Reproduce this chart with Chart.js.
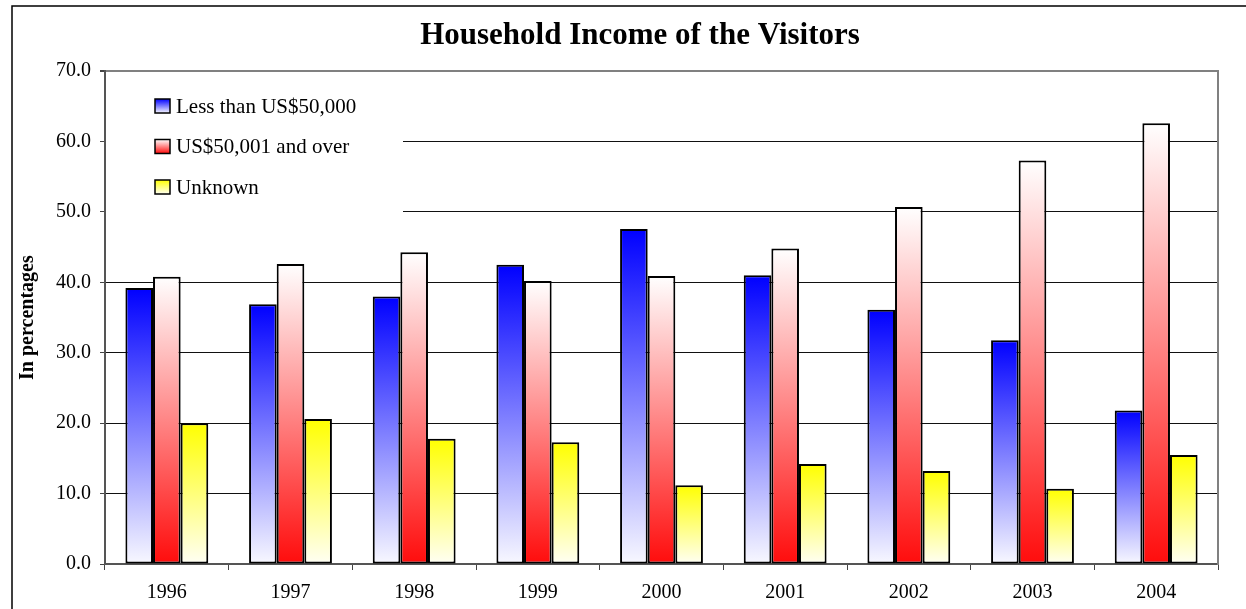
<!DOCTYPE html>
<html>
<head>
<meta charset="utf-8">
<script src="https://cdn.jsdelivr.net/npm/chart.js@4/dist/chart.umd.min.js"></script>
<style>
  body { margin: 0; background: #fff; }
  #wrap { width: 1246px; height: 609px; position: relative; }
</style>
</head>
<body>
<div id="wrap"><canvas id="chart_area"></canvas></div>
<script>
// data
const years = ['1996', '1997', '1998', '1999', '2000', '2001', '2002', '2003', '2004'];
const lessThan50k = [39.2, 36.9, 38.0, 42.5, 47.6, 41.0, 36.1, 31.8, 21.8];
const over50k = [40.8, 42.6, 44.3, 40.2, 40.9, 44.8, 50.7, 57.3, 62.6];
const unknown = [20.0, 20.6, 17.8, 17.3, 11.2, 14.2, 13.2, 10.7, 15.5];
const seriesNames = ['Less than US$50,000', 'US$50,001 and over', 'Unknown'];
const yTicks = [0, 10, 20, 30, 40, 50, 60, 70];

const serif = '"Liberation Serif", "Times New Roman", serif';
// top -> bottom colours of each gradient
const gradTop = ['#0000ff', '#ffffff', '#ffff00'];
const gradBottom = ['#f8f8ff', '#ff0c0c', '#fffff4'];

const barFill = (i) => (c) => {
  const chart = c.chart;
  const y = chart.scales.y;
  if (c.type !== 'data' || !y || !chart.chartArea) return gradTop[i];
  const yTop = y.getPixelForValue(c.raw);
  const yBase = y.getPixelForValue(0);
  if (!isFinite(yTop) || !isFinite(yBase) || yTop === yBase) return gradTop[i];
  const g = chart.ctx.createLinearGradient(0, yTop, 0, yBase);
  g.addColorStop(0, gradTop[i]);
  g.addColorStop(1, gradBottom[i]);
  return g;
};

const frameAndLegend = {
  id: 'frameAndLegend',
  beforeDraw(chart) {
    const c = chart.ctx;
    c.save();
    c.strokeStyle = '#000';
    c.lineWidth = 1.5;
    c.beginPath();
    c.moveTo(12, chart.height);
    c.lineTo(12, 6);
    c.lineTo(chart.width, 6);
    c.stroke();
    c.restore();
  },
  beforeDatasetsDraw(chart) {
    const c = chart.ctx;
    const a = chart.chartArea;
    c.save();
    // white legend panel hiding the grid lines
    c.fillStyle = '#fff';
    c.fillRect(a.left + 1, a.top + 2, 402 - a.left, 216 - a.top);
    c.font = '21px ' + serif;
    c.textBaseline = 'middle';
    c.textAlign = 'left';
    chart.data.datasets.forEach((ds, i) => {
      const cy = 106 + i * 40.5;
      const g = c.createLinearGradient(0, cy - 7, 0, cy + 7);
      g.addColorStop(0, gradTop[i]);
      g.addColorStop(1, gradBottom[i]);
      c.fillStyle = g;
      c.fillRect(155, cy - 7, 15, 14);
      c.strokeStyle = '#000';
      c.lineWidth = 1.5;
      c.strokeRect(155, cy - 7, 15, 14);
      c.fillStyle = '#000';
      c.fillText(ds.label, 176, cy + 1);
    });
    c.restore();
  }
};

const ctx = document.getElementById('chart_area').getContext('2d');
const chart = new Chart(ctx, {
  type: 'bar',
  data: {
    labels: years,
    datasets: [lessThan50k, over50k, unknown].map((d, i) => ({
      label: seriesNames[i],
      data: d,
      backgroundColor: barFill(i),
      borderColor: '#000',
      borderWidth: 2,
      borderSkipped: false,
      categoryPercentage: 0.67,
      barPercentage: 1.0
    }))
  },
  options: {
    responsive: true,
    maintainAspectRatio: false,
    animation: false,
    layout: { padding: { top: 6, left: 34, right: 0, bottom: 0 } },
    plugins: {
      legend: { display: false },
      tooltip: { enabled: false },
      title: {
        display: true,
        text: 'Household Income of the Visitors',
        color: '#000',
        font: { family: serif, size: 31, weight: 'bold' },
        padding: { top: 11, bottom: 17 }
      }
    },
    scales: {
      x: {
        offset: true,
        grid: { display: true, drawOnChartArea: false, drawTicks: true, tickLength: 6, color: '#444', offset: true },
        border: { display: true, color: '#555', width: 2 },
        ticks: { color: '#000', font: { family: serif, size: 20 }, padding: 11, maxRotation: 0 },
        afterFit(s) { s.height = 45; }
      },
      y: {
        min: 0,
        max: 70,
        afterBuildTicks(s) { s.ticks = yTicks.map(v => ({ value: v })); },
        grid: {
          color: (c) => c.tick && c.tick.value === 70 ? '#808080' : '#111',
          lineWidth: (c) => c.tick && c.tick.value === 70 ? 2 : 1,
          tickLength: 5,
          tickColor: '#444'
        },
        border: { display: true, color: '#555', width: 2 },
        ticks: { color: '#000', font: { family: serif, size: 20 }, padding: 9, callback: (v) => Number(v).toFixed(1) },
        title: {
          display: true,
          text: 'In percentages',
          color: '#000',
          font: { family: serif, size: 20, weight: 'bold' },
          padding: { top: -18, bottom: 0 }
        },
        afterFit(s) { s.width = 71; }
      },
      // right-hand frame of the plot area
      yRight: {
        position: 'right',
        min: 0,
        max: 70,
        grid: { display: false },
        ticks: { display: false },
        border: { display: true, color: '#808080', width: 2 },
        afterFit(s) { s.width = 28; }
      }
    }
  },
  plugins: [frameAndLegend]
});
</script>
</body>
</html>
